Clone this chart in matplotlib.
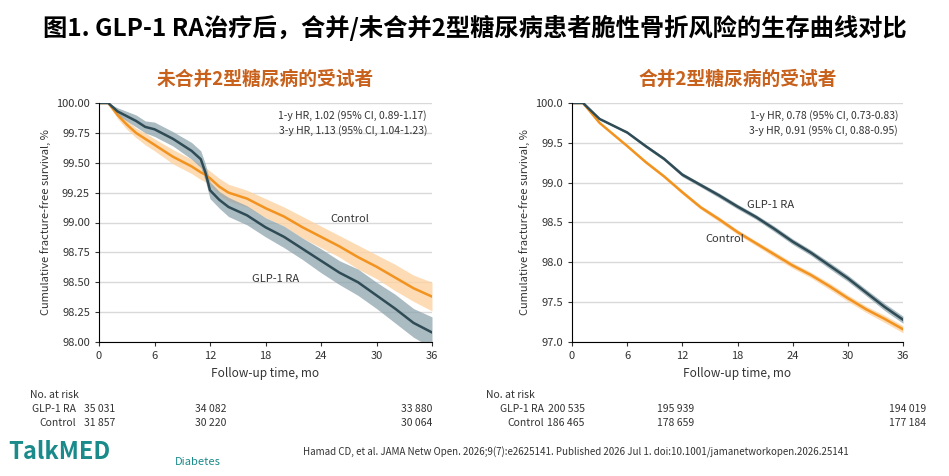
import matplotlib
matplotlib.use("Agg")
import matplotlib.pyplot as plt
import numpy as np

plt.rcParams['font.family'] = ['Noto Sans CJK SC', 'DejaVu Sans']

# Left panel: without T2D
l_t = [0, 1, 2, 3, 4, 5, 6, 8, 10, 11, 11.5, 12, 13, 14, 16, 18, 20, 22, 24, 26, 28, 30, 32, 34, 36]
l_glp = [100, 100, 99.93, 99.89, 99.85, 99.80, 99.78, 99.70, 99.60, 99.53, 99.42, 99.27, 99.19, 99.13, 99.06, 98.96, 98.88, 98.78, 98.68, 98.58, 98.50, 98.39, 98.28, 98.16, 98.08]
l_glp_w = [0, 0, .03, .04, .05, .05, .06, .06, .07, .07, .07, .07, .07, .08, .08, .08, .09, .09, .10, .10, .11, .11, .12, .12, .13]
l_ctl = [100, 100, 99.90, 99.82, 99.75, 99.70, 99.65, 99.55, 99.47, 99.42, 99.40, 99.37, 99.30, 99.25, 99.20, 99.12, 99.05, 98.96, 98.88, 98.80, 98.71, 98.63, 98.54, 98.45, 98.38]
l_ctl_w = [0, 0, .03, .04, .04, .05, .05, .06, .06, .06, .06, .06, .07, .07, .07, .08, .08, .09, .09, .09, .10, .10, .11, .11, .12]

# Right panel: with T2D
r_t = [0, 1.2, 3, 6, 8, 10, 12, 14, 16, 18, 20, 22, 24, 26, 28, 30, 32, 34, 36]
r_glp = [100, 100, 99.80, 99.63, 99.46, 99.30, 99.10, 98.97, 98.84, 98.70, 98.57, 98.42, 98.26, 98.12, 97.96, 97.80, 97.62, 97.44, 97.28]
r_ctl = [100, 100, 99.75, 99.46, 99.26, 99.08, 98.88, 98.69, 98.54, 98.38, 98.24, 98.10, 97.96, 97.84, 97.70, 97.55, 97.41, 97.29, 97.16]
r_w = [0, 0, .01, .015, .02, .02, .025, .025, .03, .03, .03, .035, .035, .035, .04, .04, .04, .045, .045]

GLP = '#2f4b55'; GLP_B = '#8ea4ad'
CTL = '#f29320'; CTL_B = '#fdd3a3'
SUB = '#c8611c'

fig = plt.figure(figsize=(9.49, 4.76), dpi=100)
W, H = 949, 476
def ax_at(x0, y0, x1, y1):
    return fig.add_axes([x0 / W, 1 - y1 / H, (x1 - x0) / W, (y1 - y0) / H])

fig.text(0.5, 1 - 28 / H, '图1. GLP-1 RA治疗后，合并/未合并2型糖尿病患者脆性骨折风险的生存曲线对比',
         ha='center', va='center', fontsize=17.5, fontweight='bold', color='black')

def panel(ax, t, g, gw, c, cw, ylim, yt, yfmt, title, hr, glab, clab):
    g = np.array(g); c = np.array(c); gw = np.array(gw); cw = np.array(cw)
    ax.fill_between(t, c - cw, c + cw, color=CTL_B, alpha=0.8, lw=0)
    ax.fill_between(t, g - gw, g + gw, color=GLP_B, alpha=0.75, lw=0)
    ax.plot(t, c, color=CTL, lw=1.8)
    ax.plot(t, g, color=GLP, lw=1.8)
    ax.set_xlim(0, 36); ax.set_ylim(*ylim)
    ax.set_xticks(range(0, 37, 6)); ax.set_yticks(yt)
    ax.set_yticklabels([yfmt.format(v) for v in yt])
    for v in yt:
        ax.axhline(v, color='#d9d9d9', lw=1, zorder=0)
    for s in ['top', 'right']:
        ax.spines[s].set_visible(False)
    ax.tick_params(labelsize=8, length=3, color='#333333', labelcolor='#333333')
    ax.set_xlabel('Follow-up time, mo', fontsize=8.5, color='#333333')
    ax.set_ylabel('Cumulative fracture-free survival, %', fontsize=8, color='#333333')
    ax.set_title(title, fontsize=13.5, fontweight='bold', color=SUB, pad=13)
    ax.text(0.985, 0.97, hr, transform=ax.transAxes, ha='right', va='top', fontsize=7.5,
            color='#333333', linespacing=1.4)
    ax.text(*glab, 'GLP-1 RA', fontsize=8, color='#333333')
    ax.text(*clab, 'Control', fontsize=8, color='#333333')

axl = ax_at(99, 103, 432, 342)
panel(axl, l_t, l_glp, l_glp_w, l_ctl, l_ctl_w, (98, 100), [98, 98.25, 98.5, 98.75, 99, 99.25, 99.5, 99.75, 100],
      '{:.2f}', '未合并2型糖尿病的受试者',
      '1-y HR, 1.02 (95% CI, 0.89-1.17)\n3-y HR, 1.13 (95% CI, 1.04-1.23)', (16.5, 98.5), (25, 99.0))
axr = ax_at(572, 103, 903, 342)
panel(axr, r_t, r_glp, r_w, r_ctl, r_w, (97, 100), [97, 97.5, 98, 98.5, 99, 99.5, 100],
      '{:.1f}', '合并2型糖尿病的受试者',
      '1-y HR, 0.78 (95% CI, 0.73-0.83)\n3-y HR, 0.91 (95% CI, 0.88-0.95)', (19, 98.68), (14.5, 98.25))

# risk tables
risk_l = {'GLP-1 RA': ['35 031', '34 082', '33 880'], 'Control': ['31 857', '30 220', '30 064']}
risk_r = {'GLP-1 RA': ['200 535', '195 939', '194 019'], 'Control': ['186 465', '178 659', '177 184']}
def table(xs, risk, lab_x, lab_r):
    fig.text(lab_x / W, 1 - 395 / H, 'No. at risk', fontsize=7.5, color='#333333', va='center')
    for i, (k, vals) in enumerate(risk.items()):
        y = 1 - (409 + 14 * i) / H
        fig.text(lab_r / W, y, k, fontsize=7.5, color='#333333', va='center', ha='right')
        for x, v, ha in zip(xs, vals, ['center', 'center', 'right']):
            fig.text(x / W, y, v, fontsize=7.5, color='#333333', va='center', ha=ha)
table([100, 211, 432], risk_l, 30, 76)
table([566, 676, 926], risk_r, 486, 544)

fig.text(8 / W, 1 - 452 / H, 'TalkMED', fontsize=17, fontweight='bold', color='#1a8a8a', va='center')
fig.text(175 / W, 1 - 462 / H, 'Diabetes', fontsize=8, style='italic', color='#1a8a8a', va='center')
fig.text(303 / W, 1 - 452 / H,
         'Hamad CD, et al. JAMA Netw Open. 2026;9(7):e2625141. Published 2026 Jul 1. doi:10.1001/jamanetworkopen.2026.25141',
         fontsize=7, color='#333333', va='center')

fig.savefig('out.png', dpi=100)
